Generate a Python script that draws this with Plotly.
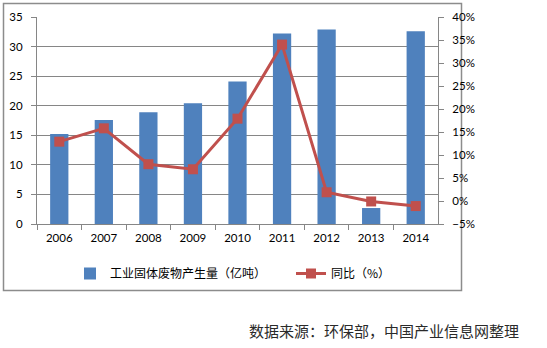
import plotly.graph_objects as go

years = ["2006", "2007", "2008", "2009", "2010", "2011", "2012", "2013", "2014"]
output_values = [15.2, 17.6, 18.9, 20.4, 24.1, 32.2, 32.9, 2.7, 32.6]
yoy_values = [12.9, 15.8, 8.0, 6.9, 17.9, 34.0, 1.9, -0.1, -1.1]
bar_name = "工业固体废物产生量（亿吨）"
line_name = "同比（%）"
source_text = "数据来源：环保部，中国产业信息网整理"

W, H = 547, 348
px = lambda v: v / W
py = lambda v: 1 - v / H

axis_color = "#868686"
tick_font = dict(family="Lato, Liberation Sans, sans-serif", size=11.5, color="#000000")

fig = go.Figure()
fig.add_trace(go.Bar(
    x=years, y=output_values, name=bar_name,
    marker=dict(color="#4F81BD", line=dict(width=0)),
    yaxis="y",
))
fig.add_trace(go.Scatter(
    x=years, y=yoy_values, name=line_name, mode="lines+markers",
    line=dict(color="#C0504D", width=3),
    marker=dict(symbol="square", size=10, color="#C0504D"),
    yaxis="y2",
))

fig.update_layout(
    width=W, height=H,
    margin=dict(l=0, r=0, t=0, b=0, autoexpand=False),
    paper_bgcolor="white", plot_bgcolor="white",
    bargap=0.59,
    xaxis=dict(
        domain=[px(37), px(438)], automargin=False,
        type="category", range=[-0.5, 8.5],
        showline=True, linecolor=axis_color, linewidth=1,
        ticks="outside", tickson="boundaries", ticklen=5, tickcolor=axis_color,
        tickfont=tick_font, showgrid=False, ticklabelstandoff=3,
    ),
    yaxis=dict(
        domain=[py(224), py(17)], automargin=False,
        range=[0, 35], dtick=5, tick0=0,
        showline=True, linecolor=axis_color, linewidth=1,
        ticks="outside", ticklen=5, tickcolor=axis_color,
        showgrid=True, gridcolor=axis_color, gridwidth=1,
        zeroline=False, tickfont=tick_font, ticklabelstandoff=6,
    ),
    yaxis2=dict(
        overlaying="y", side="right", anchor="x", automargin=False,
        range=[-5, 40], dtick=5, tick0=-5, ticksuffix="%",
        showline=True, linecolor=axis_color, linewidth=1,
        ticks="outside", ticklen=5, tickcolor=axis_color,
        showgrid=False, zeroline=False, tickfont=tick_font, ticklabelstandoff=6,
    ),
    legend=dict(
        orientation="h", x=px(70), y=py(259), xanchor="left", yanchor="top",
        font=dict(family="Noto Sans CJK SC, sans-serif", size=12, color="#000000"),
        itemwidth=30, entrywidth=176, bgcolor="rgba(0,0,0,0)",
        tracegroupgap=0,
    ),
    shapes=[dict(
        type="rect", xref="paper", yref="paper",
        x0=px(3.5), x1=px(461.5), y0=py(290.5), y1=py(3.5),
        line=dict(color="#8C8C8C", width=1.5), fillcolor="rgba(0,0,0,0)", layer="below",
    )],
    annotations=[dict(
        text=source_text, xref="paper", yref="paper",
        x=px(521), y=py(330), xanchor="right", yanchor="middle",
        showarrow=False,
        font=dict(family="Noto Sans CJK SC, sans-serif", size=15, color="#2a2a2a"),
    )],
)

fig.write_html("out.html")
